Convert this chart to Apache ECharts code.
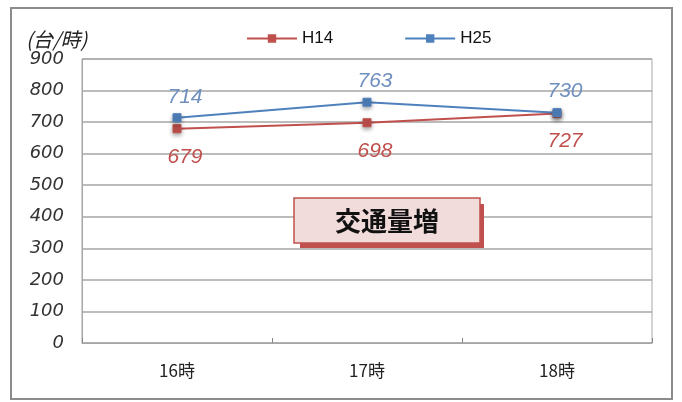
<!DOCTYPE html>
<html>
<head>
<meta charset="utf-8">
<script src="https://cdn.jsdelivr.net/npm/echarts@6/dist/echarts.min.js"></script>
<style>
  html, body { margin: 0; padding: 0; background: #fff; }
  #chart { width: 682px; height: 402px; }
</style>
</head>
<body>
<div id="chart"></div>
<script>
// Hourly traffic volume (vehicles per hour), two survey years
const hours = ['16時', '17時', '18時'];
const h14 = [679, 698, 727];
const h25 = [714, 763, 730];
const yTicks = { min: 0, max: 900, interval: 100 };
const seriesNames = ['H14', 'H25'];
const unitLabel = '(台/時)';
const noteText = '交通量増';

const RED = '#C0504D';
const BLUE = '#4F81BD';
const GRID = '#A6A6A6';

const chart = echarts.init(document.getElementById('chart'), null, { renderer: 'canvas' });

const markerStyle = (color) => ({
  color: color,
  borderColor: color,
  borderWidth: 1,
  shadowColor: 'rgba(0,0,0,0.35)',
  shadowBlur: 4,
  shadowOffsetY: 2
});

chart.setOption({
  backgroundColor: '#fff',
  animation: false,
  textStyle: { fontFamily: '"Liberation Sans", Arial, sans-serif' },
  legend: {
    left: 241,
    top: 25,
    itemWidth: 50,
    itemHeight: 8,
    itemGap: 71,
    textStyle: { fontSize: 17, color: '#111', fontFamily: '"Liberation Sans Narrow", "Liberation Sans", sans-serif' },
    data: seriesNames
  },
  grid: {
    left: 82, top: 59, right: 30, bottom: 59,
    show: true,
    borderColor: GRID,
    borderWidth: 1
  },
  xAxis: {
    type: 'category',
    data: hours,
    boundaryGap: true,
    axisLine: { lineStyle: { color: GRID, width: 1 } },
    axisTick: { show: true, inside: true, length: 5, lineStyle: { color: '#888' } },
    axisLabel: {
      margin: 19,
      fontSize: 17,
      color: '#222',
      fontFamily: '"Noto Sans CJK JP", sans-serif'
    }
  },
  yAxis: {
    type: 'value',
    min: yTicks.min,
    max: yTicks.max,
    interval: yTicks.interval,
    name: unitLabel,
    nameLocation: 'end',
    nameGap: 10,
    nameTextStyle: {
      fontSize: 20,
      fontStyle: 'italic',
      color: '#222',
      align: 'left',
      padding: [0, 0, 0, -56],
      fontFamily: '"Noto Sans CJK JP", sans-serif'
    },
    axisLine: { show: true, lineStyle: { color: GRID } },
    axisTick: { show: false },
    splitLine: { lineStyle: { color: GRID, width: 1.5 } },
    axisLabel: {
      margin: 18,
      fontSize: 18,
      fontStyle: 'italic',
      color: '#333',
      fontFamily: '"DejaVu Sans", sans-serif'
    }
  },
  series: [
    {
      name: seriesNames[0],
      type: 'line',
      data: h14,
      symbol: 'rect',
      symbolSize: 8,
      lineStyle: { color: RED, width: 2 },
      itemStyle: markerStyle(RED),
      label: {
        show: true,
        position: 'bottom',
        distance: 13,
        offset: [8, 0],
        fontSize: 21,
        fontStyle: 'italic',
        color: RED
      },
      z: 3
    },
    {
      name: seriesNames[1],
      type: 'line',
      data: h25,
      symbol: 'rect',
      symbolSize: 8,
      lineStyle: { color: BLUE, width: 2 },
      itemStyle: markerStyle(BLUE),
      label: {
        show: true,
        position: 'top',
        distance: 6,
        offset: [8, 0],
        fontSize: 21,
        fontStyle: 'italic',
        color: '#6F8FBF'
      },
      z: 4
    }
  ],
  graphic: [
    {
      // outer chart frame
      type: 'rect',
      shape: { x: 11, y: 8, width: 661, height: 391 },
      style: { fill: 'none', stroke: '#8C8C8C', lineWidth: 2 },
      silent: true,
      z: 0
    },
    {
      // drop shadow of the note box
      type: 'rect',
      shape: { x: 300, y: 204, width: 184, height: 44 },
      style: { fill: RED },
      z: 10
    },
    {
      type: 'rect',
      shape: { x: 294, y: 198, width: 186, height: 45 },
      style: { fill: '#F2DCDB', stroke: RED, lineWidth: 1.5 },
      z: 11
    },
    {
      type: 'text',
      x: 387,
      y: 221,
      style: {
        text: noteText,
        fill: '#111',
        font: 'bold 26px "Noto Sans CJK JP", sans-serif',
        align: 'center',
        verticalAlign: 'middle'
      },
      z: 12
    }
  ]
});
</script>
</body>
</html>
